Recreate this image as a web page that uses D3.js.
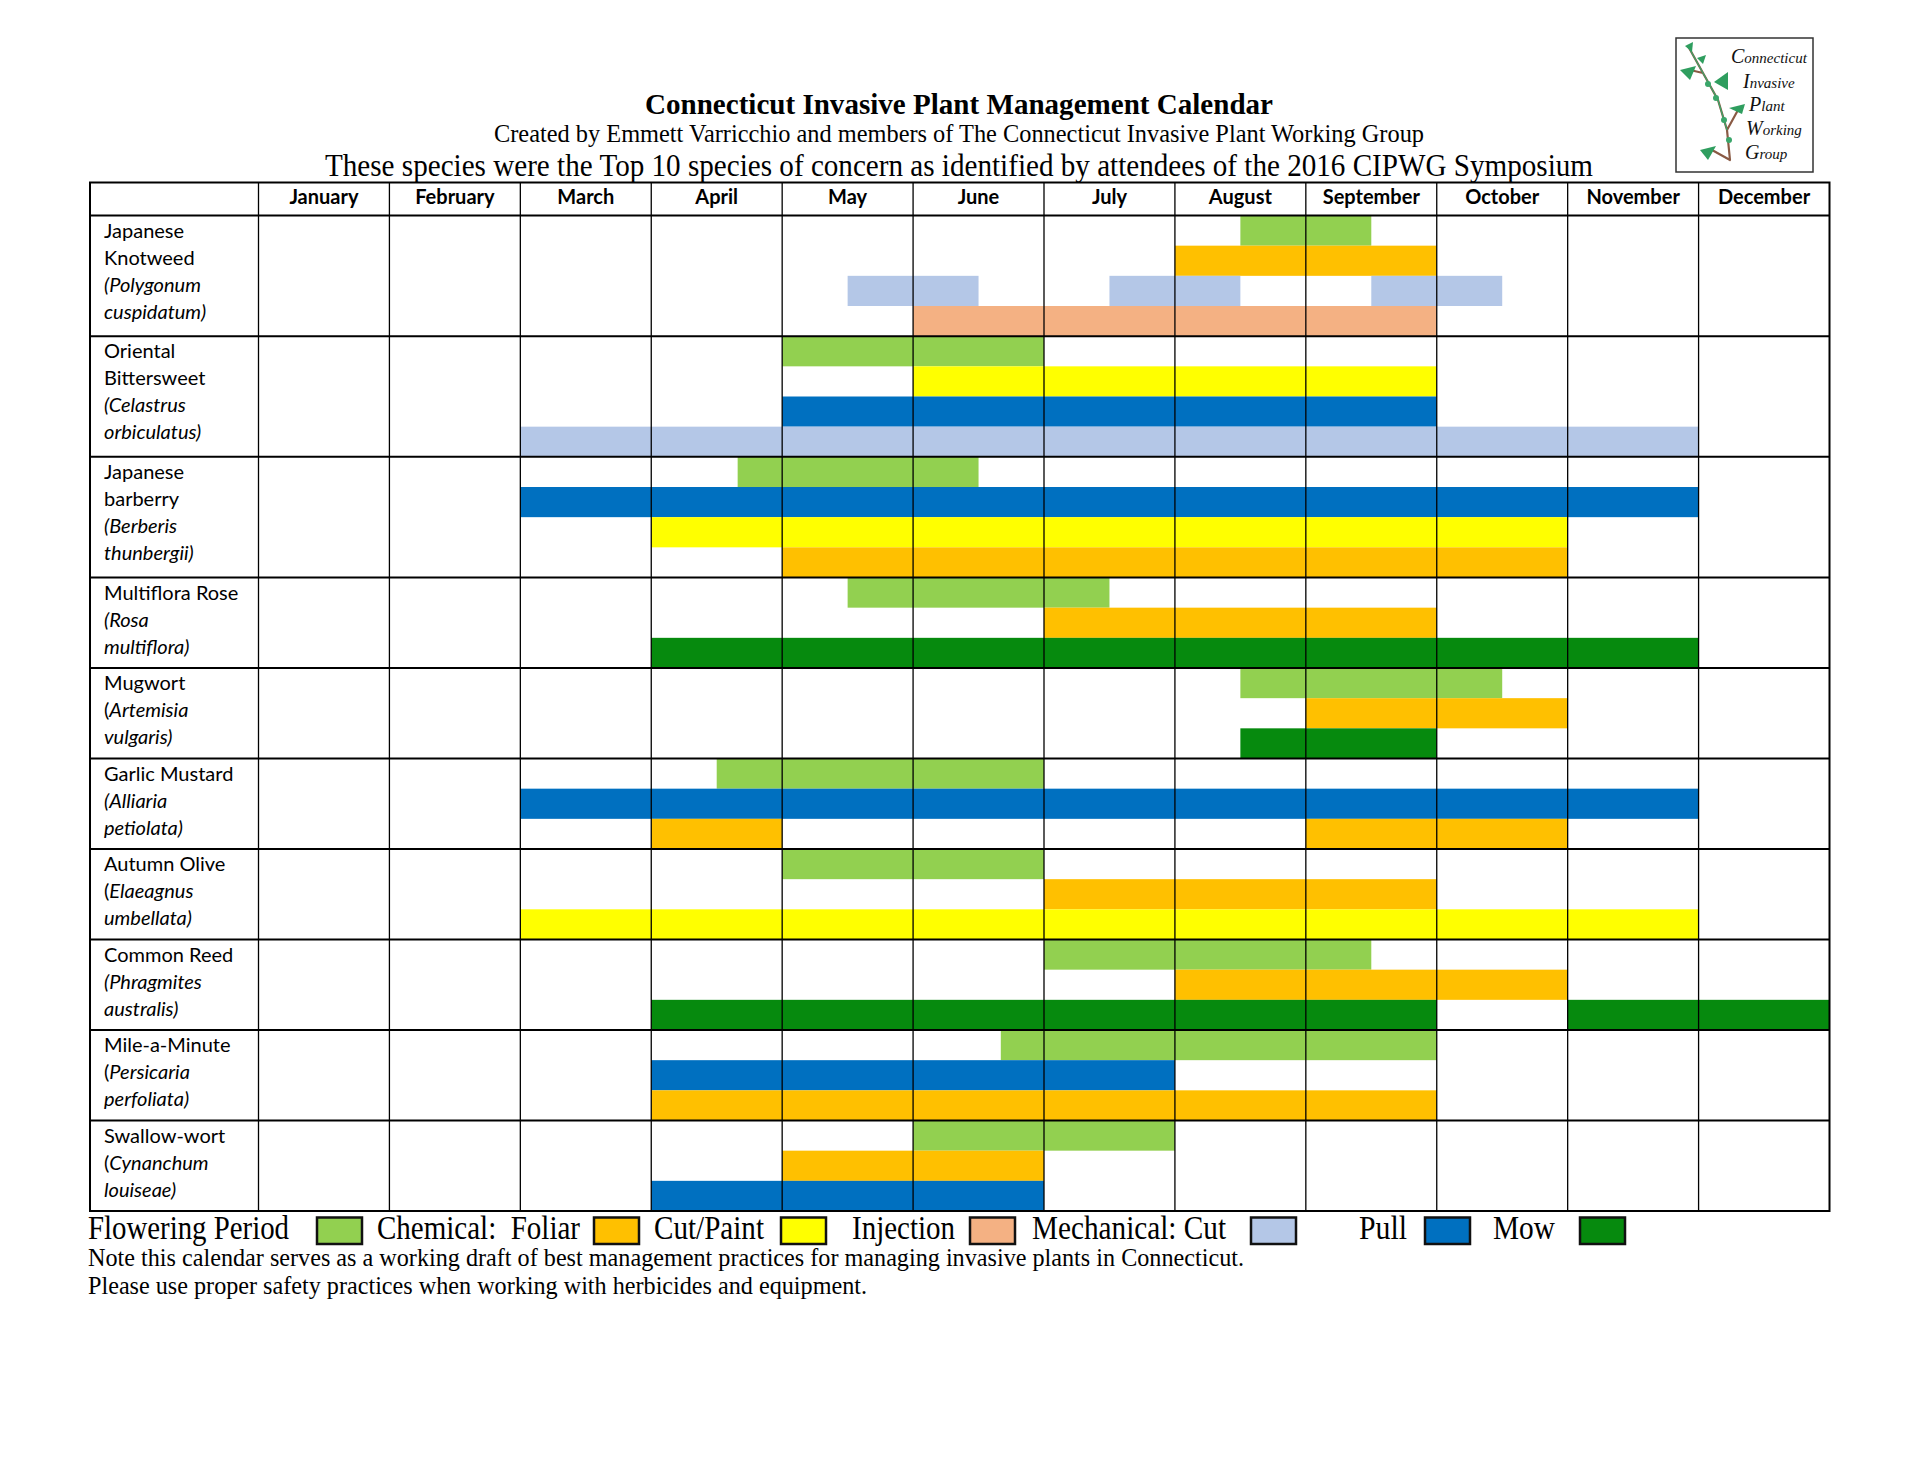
<!DOCTYPE html>
<html>
<head>
<meta charset="utf-8">
<script src="https://cdn.jsdelivr.net/npm/d3@7"></script>
<style>
  html, body { margin: 0; padding: 0; background: #fff; }
  svg { display: block; }
</style>
</head>
<body>
<svg id="chart" width="1920" height="1483"></svg>
<script>
// ---------------- DATA ----------------
const months = ["January","February","March","April","May","June","July","August","September","October","November","December"];

const methods = ["Flowering Period","Chemical:  Foliar","Cut/Paint","Injection","Mechanical: Cut","Pull","Mow"];
const methodColors = ["#92D050","#FFC000","#FFFF00","#F4B183","#B4C7E7","#0070C0","#068A0E"];

const commonNames = [
  ["Japanese","Knotweed"],
  ["Oriental","Bittersweet"],
  ["Japanese","barberry"],
  ["Multiflora Rose"],
  ["Mugwort"],
  ["Garlic Mustard"],
  ["Autumn Olive"],
  ["Common Reed"],
  ["Mile-a-Minute"],
  ["Swallow-wort"]
];
const latinNames = [
  ["Polygonum","cuspidatum"],
  ["Celastrus","orbiculatus"],
  ["Berberis","thunbergii"],
  ["Rosa","multiflora"],
  ["Artemisia","vulgaris"],
  ["Alliaria","petiolata"],
  ["Elaeagnus","umbellata"],
  ["Phragmites","australis"],
  ["Persicaria","perfoliata"],
  ["Cynanchum","louiseae"]
];
// whether the opening parenthesis is set upright (true) or italic (false)
const uprightParen = [false,false,false,false,true,false,true,false,true,true];

// each track: [method index, [[start month, end month], ...]] ; months 0 = start of January, 12 = end of December
const knotweedTracks    = [[0,[[7.5,8.5]]],[1,[[7,9]]],[4,[[4.5,5.5],[6.5,7.5],[8.5,9.5]]],[3,[[5,9]]]];
const bittersweetTracks = [[0,[[4,6]]],[2,[[5,9]]],[5,[[4,9]]],[4,[[2,11]]]];
const barberryTracks    = [[0,[[3.66,5.5]]],[5,[[2,11]]],[2,[[3,10]]],[1,[[4,10]]]];
const roseTracks        = [[0,[[4.5,6.5]]],[1,[[6,9]]],[6,[[3,11]]]];
const mugwortTracks     = [[0,[[7.5,9.5]]],[1,[[8,10]]],[6,[[7.5,9]]]];
const garlicTracks      = [[0,[[3.5,6]]],[5,[[2,11]]],[1,[[3,4],[8,10]]]];
const oliveTracks       = [[0,[[4,6]]],[1,[[6,9]]],[2,[[2,11]]]];
const reedTracks        = [[0,[[6,8.5]]],[1,[[7,10]]],[6,[[3,9],[10,12]]]];
const mileTracks        = [[0,[[5.67,9]]],[5,[[3,7]]],[1,[[3,9]]]];
const swallowTracks     = [[0,[[5,7]]],[1,[[4,6]]],[5,[[3,6]]]];

const speciesTracks = [knotweedTracks,bittersweetTracks,barberryTracks,roseTracks,mugwortTracks,
                       garlicTracks,oliveTracks,reedTracks,mileTracks,swallowTracks];

const titleText = "Connecticut Invasive Plant Management Calendar";
const subtitleText = "Created by Emmett Varricchio and members of The Connecticut Invasive Plant Working Group";
const introText = "These species were the Top 10 species of concern as identified by attendees of the 2016 CIPWG Symposium";
const noteLines = [
  "Note this calendar serves as a working draft of best management practices for managing invasive plants in Connecticut.",
  "Please use proper safety practices when working with herbicides and equipment."
];
const logoWords = ["Connecticut","Invasive","Plant","Working","Group"];

// ---------------- LAYOUT ----------------
const svg = d3.select("#chart");
const tableLeft = 90, labelRight = 258.5, tableRight = 1829.5;
const headerTop = 182.5, headerBottom = 215.5, tableBottom = 1211;
const sans = "Lato, 'Open Sans', sans-serif";
const serif = "'Liberation Serif', 'Times New Roman', serif";

// flatten into sub-rows
const subRows = [];
const speciesBlocks = [];
speciesTracks.forEach((tracks, si) => {
  const first = subRows.length;
  tracks.forEach((t, ti) => subRows.push({species: si, method: t[0], spans: t[1], idx: subRows.length}));
  speciesBlocks.push({species: si, first: first, last: subRows.length - 1});
});

const x = d3.scaleLinear().domain([0, 12]).range([labelRight, tableRight]);
const y = d3.scaleBand().domain(d3.range(subRows.length)).range([headerBottom, tableBottom]).padding(0);

// ---------------- TITLES ----------------
svg.append("text").attr("x", 645).attr("y", 114)
  .attr("font-family", serif).attr("font-weight", "bold").attr("font-size", 29)
  .attr("textLength", 628).attr("lengthAdjust", "spacingAndGlyphs")
  .text(titleText);
svg.append("text").attr("x", 494).attr("y", 142)
  .attr("font-family", serif).attr("font-size", 25)
  .attr("textLength", 930).attr("lengthAdjust", "spacingAndGlyphs")
  .text(subtitleText);
svg.append("text").attr("x", 325).attr("y", 175.5)
  .attr("font-family", serif).attr("font-size", 31)
  .attr("textLength", 1268).attr("lengthAdjust", "spacingAndGlyphs")
  .text(introText);

// ---------------- BARS ----------------
const barData = [];
subRows.forEach(r => r.spans.forEach(s => barData.push({row: r.idx, method: r.method, start: s[0], end: s[1]})));

svg.append("g").attr("class", "bars")
  .selectAll("rect").data(barData).join("rect")
  .attr("x", d => x(d.start))
  .attr("width", d => x(d.end) - x(d.start))
  .attr("y", d => y(d.row))
  .attr("height", y.bandwidth())
  .attr("fill", d => methodColors[d.method]);

// ---------------- GRID ----------------
const grid = svg.append("g").attr("class", "grid").attr("stroke", "#000").attr("fill", "none");
grid.selectAll("line.v").data(d3.range(0, 12)).join("line").attr("class", "v")
  .attr("x1", d => x(d)).attr("x2", d => x(d))
  .attr("y1", headerTop).attr("y2", tableBottom)
  .attr("stroke-width", 1.3);
const sepYs = [headerBottom].concat(speciesBlocks.slice(1).map(b => y(b.first)));
grid.selectAll("line.h").data(sepYs).join("line").attr("class", "h")
  .attr("x1", tableLeft).attr("x2", tableRight)
  .attr("y1", d => d).attr("y2", d => d)
  .attr("stroke-width", 2);
grid.append("rect").attr("x", tableLeft).attr("y", headerTop)
  .attr("width", tableRight - tableLeft).attr("height", tableBottom - headerTop)
  .attr("stroke-width", 2);

// ---------------- MONTH HEADERS ----------------
svg.append("g").selectAll("text").data(months).join("text")
  .attr("x", (d, i) => x(i + 0.5)).attr("y", 204)
  .attr("text-anchor", "middle")
  .attr("font-family", sans).attr("font-weight", "bold").attr("font-size", 20)
  .text(d => d);

// ---------------- ROW LABELS ----------------
const labelG = svg.append("g").attr("font-family", sans).attr("font-size", 20).attr("fill", "#000");
speciesBlocks.forEach(b => {
  const top = y(b.first);
  const si = b.species;
  const lines = commonNames[si].map(t => ({parts: [{t: t, it: false}]}));
  const lat = latinNames[si];
  lines.push({parts: uprightParen[si] ? [{t: "(", it: false}, {t: lat[0], it: true}] : [{t: "(" + lat[0], it: true}]});
  lines.push({parts: [{t: lat[1] + ")", it: true}]});
  lines.forEach((ln, li) => {
    const txt = labelG.append("text").attr("x", 104).attr("y", top + 22 + li * 27);
    ln.parts.forEach(p => txt.append("tspan").attr("font-style", p.it ? "italic" : "normal").text(p.t));
  });
});

// ---------------- LEGEND ----------------
const legendTextX = [88, 377, 654, 852, 1032, 1359, 1493];
const legendTextW = [201, 203, 110, 103, 194, 48, 62];
const legendBoxX = [317, 594, 781, 970, 1251, 1425, 1580];
const legend = svg.append("g");
methods.forEach((m, i) => {
  legend.append("text").attr("x", legendTextX[i]).attr("y", 1239)
    .attr("font-family", serif).attr("font-size", 33)
    .attr("textLength", legendTextW[i]).attr("lengthAdjust", "spacingAndGlyphs")
    .attr("xml:space", "preserve")
    .text(m);
  legend.append("rect").attr("x", legendBoxX[i]).attr("y", 1217.5)
    .attr("width", 45).attr("height", 26.5)
    .attr("fill", methodColors[i]).attr("stroke", "#111").attr("stroke-width", 2.5);
});

// notes
const noteW = [1156, 779];
svg.append("g").selectAll("text").data(noteLines).join("text")
  .attr("x", 88).attr("y", (d, i) => 1266 + i * 28)
  .attr("font-family", serif).attr("font-size", 25)
  .attr("textLength", (d, i) => noteW[i]).attr("lengthAdjust", "spacingAndGlyphs")
  .text(d => d);

// ---------------- LOGO ----------------
const logo = svg.append("g");
logo.append("rect").attr("x", 1676).attr("y", 38).attr("width", 137).attr("height", 134)
  .attr("fill", "#fff").attr("stroke", "#333").attr("stroke-width", 1.5);
logo.append("path")
  .attr("d", "M1688,46 L1703,73 L1718,100 L1727,130 L1730,160 M1727,130 L1738,110 M1730,160 L1712,150 M1703,73 L1690,70")
  .attr("stroke", "#8a5a44").attr("stroke-width", 2.2).attr("fill", "none").attr("stroke-linecap", "round");
logo.append("path")
  .attr("d", "M1688,46 L1703,73 L1718,100 L1727,130")
  .attr("stroke", "#3aa66a").attr("stroke-width", 1.2).attr("fill", "none");
const leaves = [
  "M1680,70 L1696,66 L1690,80 Z",
  "M1714,82 L1728,72 L1728,90 Z",
  "M1729,108 L1745,104 L1742,114 Z",
  "M1700,150 L1716,146 L1708,160 Z",
  "M1685,46 L1693,42 L1692,52 Z",
  "M1697,58 L1706,55 L1703,64 Z"
];
logo.selectAll("path.leaf").data(leaves).join("path").attr("class", "leaf")
  .attr("d", d => d).attr("fill", "#2f9e5f");
logo.selectAll("circle").data([[1708,84],[1716,98],[1724,120],[1729,140]]).join("circle")
  .attr("cx", d => d[0]).attr("cy", d => d[1]).attr("r", 3).attr("fill", "#3aa66a");
const logoPos = [[1731, 63], [1743, 88], [1749, 111], [1746, 135], [1745, 159]];
logoWords.forEach((w, i) => {
  const t = logo.append("text").attr("x", logoPos[i][0]).attr("y", logoPos[i][1])
    .attr("font-family", serif).attr("font-style", "italic").attr("fill", "#111");
  t.append("tspan").attr("font-size", 20).text(w[0]);
  t.append("tspan").attr("font-size", 15).text(w.slice(1));
});
</script>
</body>
</html>
